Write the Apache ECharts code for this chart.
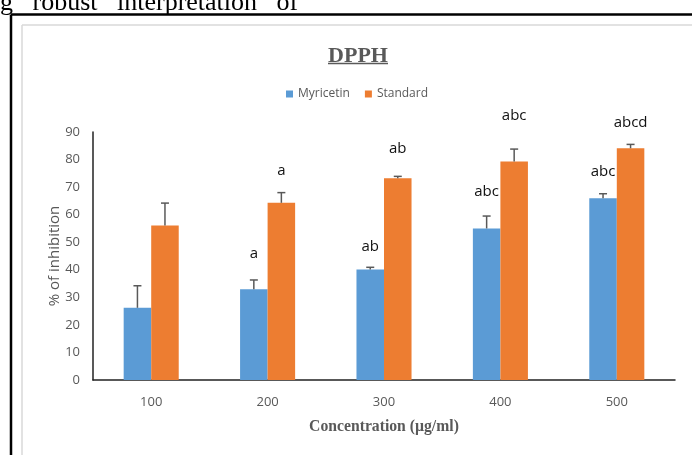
<!DOCTYPE html>
<html>
<head>
<meta charset="utf-8">
<script src="https://cdn.jsdelivr.net/npm/echarts@6/dist/echarts.min.js"></script>
<style>html,body{margin:0;padding:0;background:#fff}#c{width:692px;height:455px}</style>
</head>
<body>
<div id="c"></div>
<script>
const categories = ['100', '200', '300', '400', '500'];
const myricetin = [26.2, 32.9, 40.1, 55.0, 66.0];
const myricetinErr = [8.0, 3.4, 0.8, 4.5, 1.6];
const standard = [56.1, 64.3, 73.2, 79.3, 84.1];
const standardErr = [8.1, 3.7, 0.7, 4.5, 1.4];
const myricetinLetters = ['', 'a', 'ab', 'abc', 'abc'];
const myricetinLetterY = [null, 45.7, 48.3, 68.3, 75.6];
const standardLetters = ['', 'a', 'ab', 'abc', 'abcd'];
const standardLetterY = [null, 75.9, 83.8, 95.8, 93.2];
const yTicks = [0, 10, 20, 30, 40, 50, 60, 70, 80, 90];

const GAP = 0.527;
function makeErr(vals, errs, letters, ly, side) {
  return {
    type: 'custom',
    clip: false,
    silent: true,
    z: 5,
    data: vals.map((v, i) => [i, v, errs[i], ly[i], letters[i]]),
    renderItem: function (params, api) {
      const idx = api.value(0);
      const v = api.value(1), e = api.value(2);
      const band = api.size([1, 0])[0];
      const bw = band * (1 - GAP) / 2;
      const base = api.coord([idx, v]);
      const x = base[0] + side * bw / 2;
      const top = api.coord([idx, v + e])[1];
      const ch = [
        {type: 'line', shape: {x1: x, y1: base[1], x2: x, y2: top}, style: {stroke: '#595959', lineWidth: 1.5}},
        {type: 'line', shape: {x1: x - 4, y1: top, x2: x + 4, y2: top}, style: {stroke: '#595959', lineWidth: 1.5}}
      ];
      const t = letters[params.dataIndex];
      if (t) {
        const ty = api.coord([idx, ly[params.dataIndex]])[1];
        ch.push({type: 'text', style: {text: t, x: x, y: ty, align: 'center', verticalAlign: 'middle', font: '15px "Open Sans"', fill: '#111'}});
      }
      return {type: 'group', children: ch};
    }
  };
}

const chart = echarts.init(document.getElementById('c'));
chart.setOption({
  animation: false,
  backgroundColor: '#fff',
  grid: {left: 93, right: 17, top: 132, bottom: 75},
  legend: {
    data: ['Myricetin', 'Standard'],
    left: 286, top: 88, padding: 0,
    icon: 'rect', itemWidth: 7, itemHeight: 7, itemGap: 15,
    textStyle: {fontFamily: 'Open Sans', fontSize: 12, color: '#595959'}
  },
  xAxis: {
    type: 'category', data: categories,
    axisLine: {lineStyle: {color: '#222', width: 1.5}},
    axisTick: {show: false},
    axisLabel: {margin: 16, fontFamily: 'Open Sans', fontSize: 13, color: '#595959'},
    name: 'Concentration (µg/ml)', nameLocation: 'middle', nameGap: 39, nameMoveOverlap: false,
    nameTextStyle: {fontFamily: 'Liberation Serif', fontWeight: 'bold', fontSize: 15.7, color: '#595959'}
  },
  yAxis: {
    type: 'value', min: yTicks[0], max: yTicks[yTicks.length - 1], interval: 10,
    axisLine: {show: true, lineStyle: {color: '#222', width: 1.5}},
    axisTick: {show: false},
    splitLine: {show: false},
    axisLabel: {margin: 13, fontFamily: 'Open Sans', fontSize: 13, color: '#595959'},
    name: '% of inhibition', nameLocation: 'middle', nameGap: 31, nameMoveOverlap: false,
    nameTextStyle: {fontFamily: 'Open Sans', fontSize: 15, color: '#595959'}
  },
  series: [
    {name: 'Myricetin', type: 'bar', data: myricetin, barGap: '0%', barCategoryGap: (GAP * 100) + '%', itemStyle: {color: '#5B9BD5'}},
    {name: 'Standard', type: 'bar', data: standard, barGap: '0%', barCategoryGap: (GAP * 100) + '%', itemStyle: {color: '#ED7D31'}},
    makeErr(myricetin, myricetinErr, myricetinLetters, myricetinLetterY, -1),
    makeErr(standard, standardErr, standardLetters, standardLetterY, 1)
  ],
  graphic: [
    {type: 'text', x: 0, y: 16, style: {text: 'g   robust   interpretation   of', font: '26px "Liberation Serif"', fill: '#000', verticalAlign: 'bottom'}},
    {type: 'line', shape: {x1: 11, y1: 14.5, x2: 692, y2: 14.5}, style: {stroke: '#000', lineWidth: 2.5}},
    {type: 'line', shape: {x1: 11, y1: 14.5, x2: 11, y2: 455}, style: {stroke: '#000', lineWidth: 2.5}},
    {type: 'line', shape: {x1: 22, y1: 25, x2: 692, y2: 25}, style: {stroke: '#d9d9d9', lineWidth: 1.5}},
    {type: 'line', shape: {x1: 22, y1: 25, x2: 22, y2: 455}, style: {stroke: '#d9d9d9', lineWidth: 1.5}},
    {type: 'text', x: 358, y: 67, style: {text: 'DPPH', font: 'bold 22px "Liberation Serif"', fill: '#595959', align: 'center', verticalAlign: 'bottom'}},
    {type: 'line', shape: {x1: 328, y1: 63.5, x2: 388, y2: 63.5}, style: {stroke: '#595959', lineWidth: 1.5}}
  ]
});
</script>
</body>
</html>
